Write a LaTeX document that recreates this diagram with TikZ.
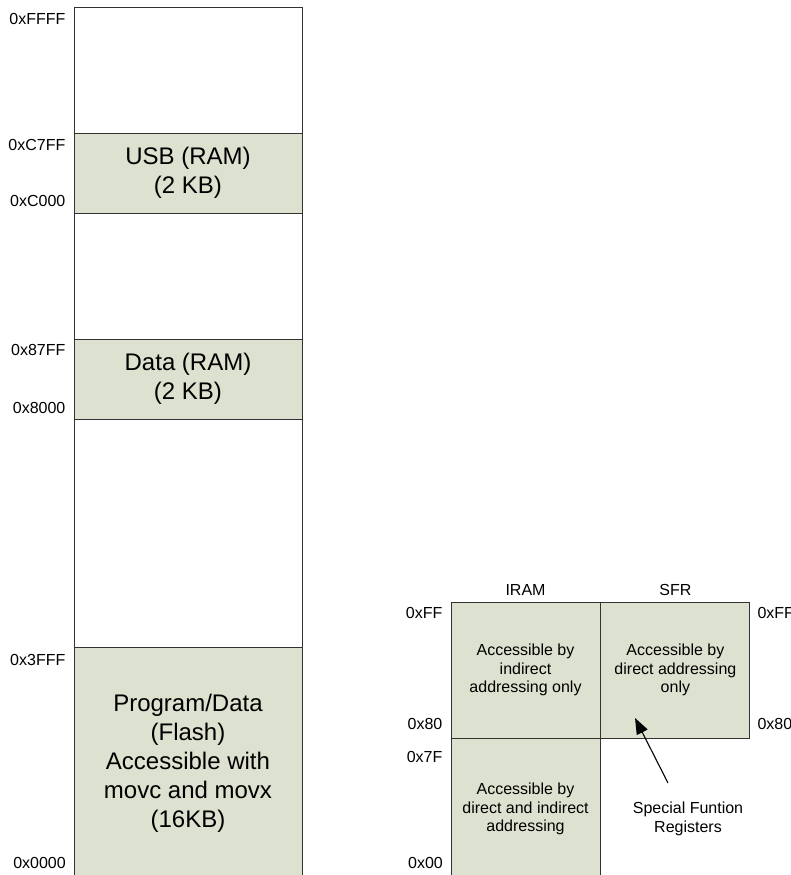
\documentclass[tikz,border=0pt]{standalone}
\usepackage{fontspec}
\setmainfont{Liberation Sans}
\usetikzlibrary{positioning,arrows.meta}
\definecolor{memfill}{RGB}{221,225,207}
\definecolor{memline}{RGB}{50,50,50}

\begin{document}
\begin{tikzpicture}[x=1pt,y=-1pt,
    region/.style={draw=memline, line width=0.9pt, fill=memfill, inner sep=0pt, align=center, minimum width=#1},
    region/.default=228pt,
    blank/.style={draw=memline, line width=0.9pt, fill=white, inner sep=0pt, minimum width=228pt},
    addr/.style={font=\fontsize{16}{18}\selectfont, inner sep=0pt},
    bigtext/.style={font=\fontsize{24}{29}\selectfont},
    smalltext/.style={font=\fontsize{16}{18.3}\selectfont}]
    \useasboundingbox (0,0) rectangle (791,875);

    % XDATA memory map (left column)
    \node[blank, minimum height=126pt] (top) at (188,70) {};
    \node[region, bigtext, minimum height=80pt] (usb) at (188,173) {USB (RAM)\\(2 KB)};
    \node[blank, minimum height=126pt] (gapa) at (188,276) {};
    \node[region, bigtext, minimum height=80pt] (data) at (188,379) {Data (RAM)\\(2 KB)};
    \node[blank, minimum height=228pt] (gapb) at (188,533) {};
    \node[region, bigtext, minimum height=232pt] (flash) at (188,763) {Program/Data\\(Flash)\\Accessible with\\movc and movx\\(16KB)};

    % addresses of the left column
    \node[addr, anchor=east] (aFFFF) at ([shift={(-8,12)}]top.north west) {0xFFFF};
    \node[addr, anchor=east] (aC7FF) at ([shift={(-8,12)}]usb.north west) {0xC7FF};
    \node[addr, anchor=east] (aC000) at ([shift={(-8,-12)}]usb.south west) {0xC000};
    \node[addr, anchor=east] (a87FF) at ([shift={(-8,11)}]data.north west) {0x87FF};
    \node[addr, anchor=east] (a8000) at ([shift={(-8,-11)}]data.south west) {0x8000};
    \node[addr, anchor=east] (a3FFF) at ([shift={(-8,13)}]flash.north west) {0x3FFF};
    \node[addr, anchor=east] (a0000) at (66,863) {0x0000};

    % internal RAM and SFR (right side)
    \node[region=149pt, smalltext, minimum height=136pt] (iramhi) at (525.5,670) {Accessible by\\indirect\\addressing only};
    \node[region=149pt, smalltext, minimum height=136pt, right=0pt of iramhi] (sfr) {Accessible by\\direct addressing\\only};
    \node[region=149pt, smalltext, minimum height=140pt, below=0pt of iramhi] (iramlo) {Accessible by\\direct and indirect\\addressing};

    \node[smalltext, inner sep=0pt, above=6pt of iramhi] (iramhead) {IRAM};
    \node[smalltext, inner sep=0pt, above=6pt of sfr] (sfrhead) {SFR};

    % addresses of the right side
    \node[addr, anchor=east] (iFF) at ([shift={(-8,11)}]iramhi.north west) {0xFF};
    \node[addr, anchor=east] (i80) at ([shift={(-8,-14)}]iramhi.south west) {0x80};
    \node[addr, anchor=east] (i7F) at ([shift={(-8,19)}]iramlo.north west) {0x7F};
    \node[addr, anchor=east] (i00) at (443,863) {0x00};
    \node[addr, anchor=west] (sFF) at ([shift={(7,11)}]sfr.north east) {0xFF};
    \node[addr, anchor=west] (s80) at ([shift={(7,-14)}]sfr.south east) {0x80};

    % note with arrow
    \node[smalltext, align=center, inner sep=0pt] (sfrnote) at (688,819) {Special Funtion\\Registers};
    \coordinate (notetail) at (668,783);
    \coordinate (sfrtip) at (635,718);
    \draw[line width=1.1pt, -{Triangle[length=16pt,width=12pt]}] (notetail) -- (sfrtip);
\end{tikzpicture}
\end{document}
